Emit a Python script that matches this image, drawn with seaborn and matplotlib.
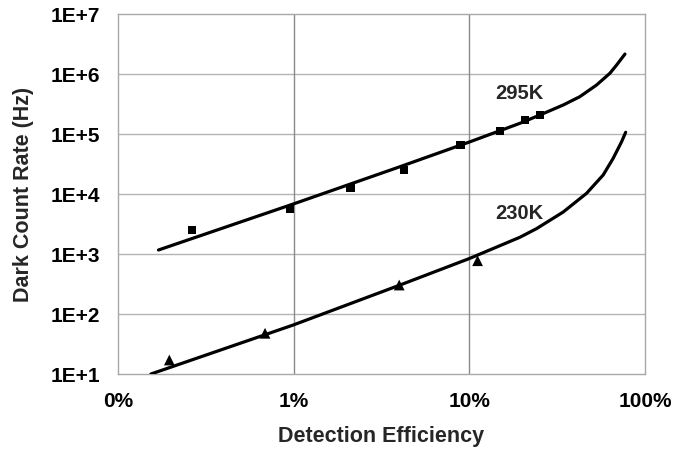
import matplotlib
matplotlib.use("Agg")
import matplotlib.pyplot as plt
import matplotlib.ticker as mticker
import seaborn as sns
import numpy as np

# ---- data ----
eff_295_pts = [0.00263, 0.00949, 0.0211, 0.0426, 0.0892, 0.149, 0.207, 0.252]
dcr_295_pts = [2512, 5560, 12590, 25120, 65560, 113500, 171100, 207500]

eff_230_pts = [0.00196, 0.00687, 0.0399, 0.1114]
dcr_230_pts = [17.1, 47.7, 304, 773]

eff_295_fit = [0.0017, 0.00995, 0.0403, 0.1, 0.194, 0.2524, 0.342, 0.4256,
               0.530, 0.631, 0.689, 0.769]
dcr_295_fit = [1166, 6813, 28500, 73500, 150700, 207500, 304000, 418700,
               655600, 1.027e6, 1.41e6, 2.15e6]

eff_230_fit = [0.00154, 0.00995, 0.0403, 0.1, 0.194, 0.2415, 0.342, 0.465,
               0.578, 0.659, 0.736, 0.776]
dcr_230_fit = [10, 65.6, 304, 840, 1900, 2650, 5000, 10270,
               20750, 39350, 74450, 106700]

label_295 = "295K"
label_230 = "230K"
x_label = "Detection Efficiency"
y_label = "Dark Count Rate (Hz)"
x_ticks = [0.001, 0.01, 0.1, 1]
y_ticks = [1e1, 1e2, 1e3, 1e4, 1e5, 1e6, 1e7]

sns.set_style("white")
plt.rcParams["font.family"] = ["Liberation Sans", "DejaVu Sans"]
plt.rcParams["font.weight"] = "bold"

fig = plt.figure(figsize=(6.89, 4.49), dpi=100)
ax = fig.add_axes([118 / 689, 1 - 374 / 449, (645 - 118) / 689, (374 - 14) / 449])
ax.set_xscale("log")
ax.set_yscale("log")

sns.lineplot(x=eff_295_fit, y=dcr_295_fit, ax=ax, color="black", lw=2.3,
             sort=False, estimator=None, zorder=3)
sns.lineplot(x=eff_230_fit, y=dcr_230_fit, ax=ax, color="black", lw=2.3,
             sort=False, estimator=None, zorder=3)
for ln in ax.get_lines():
    ln.set_solid_joinstyle("round")
sns.scatterplot(x=eff_295_pts, y=dcr_295_pts, ax=ax, marker="s", s=36,
                color="black", edgecolor="none", zorder=4)
sns.scatterplot(x=eff_230_pts, y=dcr_230_pts, ax=ax, marker="^", s=60,
                color="black", edgecolor="none", zorder=4)

ax.set_xlim(0.001, 1)
ax.set_ylim(10, 1e7)

ax.set_xticks(x_ticks)
ax.xaxis.set_major_formatter(mticker.FuncFormatter(lambda v, p: f"{v:.0%}"))
ax.set_yticks(y_ticks)
ax.yaxis.set_major_formatter(mticker.FuncFormatter(lambda v, p: f"1E+{int(round(np.log10(v)))}"))
ax.xaxis.set_minor_locator(mticker.LogLocator(base=10, subs=np.arange(2, 10), numticks=20))
ax.yaxis.set_minor_locator(mticker.LogLocator(base=10, subs=np.arange(2, 10), numticks=20))
ax.xaxis.set_minor_formatter(mticker.NullFormatter())
ax.yaxis.set_minor_formatter(mticker.NullFormatter())

ax.tick_params(axis="both", which="major", direction="in", length=0,
               labelsize=15, colors="black")
ax.tick_params(axis="x", which="major", pad=13)
ax.tick_params(axis="y", which="major", pad=13)
ax.tick_params(axis="x", which="minor", direction="in", length=5, width=0.8,
               color="#999999")
ax.tick_params(axis="y", which="minor", direction="in", length=6, width=0.8,
               color="#999999")
for lab in ax.get_xticklabels() + ax.get_yticklabels():
    lab.set_fontweight("bold")

ax.grid(False)
for yv in y_ticks[1:-1]:
    ax.axhline(yv, color="#b4b4b4", lw=1.0, zorder=1)
for xv in x_ticks[1:-1]:
    ax.axvline(xv, color="#8a8a8a", lw=1.0, zorder=1)

for s in ax.spines.values():
    s.set_color("#a8a8a8")
    s.set_linewidth(1.0)
    s.set_visible(True)

ax.text((495 - 118) / 527, (374 - 99) / 360, label_295, transform=ax.transAxes,
        fontsize=14.5, fontweight="bold", ha="left", va="baseline")
ax.text((495 - 118) / 527, (374 - 219) / 360, label_230, transform=ax.transAxes,
        fontsize=14.5, fontweight="bold", ha="left", va="baseline")

ax.set_xlabel(x_label, fontsize=15.5, fontweight="bold")
ax.set_ylabel(y_label, fontsize=15.5, fontweight="bold")
ax.xaxis.set_label_coords(0.5, (374 - 426) / 360)
ax.yaxis.set_label_coords((34 - 118) / 527, 0.5)

fig.savefig("out.png", dpi=100)
